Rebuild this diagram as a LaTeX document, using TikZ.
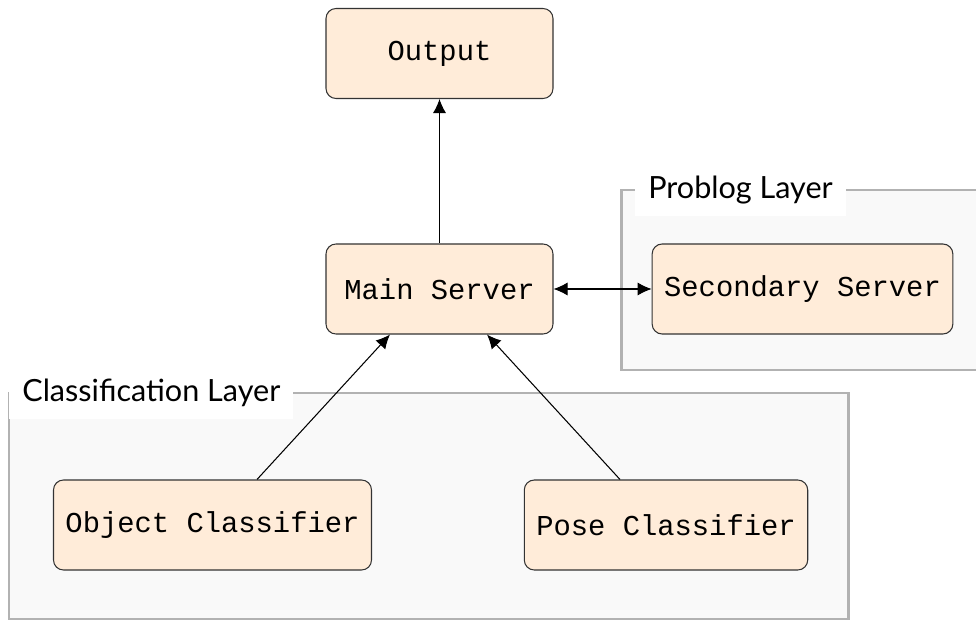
\documentclass[tikz,border=0pt]{standalone}
\usepackage{fontspec}
\setmonofont{Liberation Mono}
\newfontfamily\layerfont{Lato}
\usetikzlibrary{arrows.meta}

\begin{document}
\begin{tikzpicture}[
    unit/.style={draw=black!80, line width=0.6pt, fill=orange!15, rounded corners=0.2cm,
      minimum width=4.54cm, minimum height=1.8cm, inner xsep=0.24cm,
      font=\fontsize{16.4}{19}\selectfont\ttfamily},
    layer/.style={draw=gray!60, line width=1.7pt, fill=gray!5},
    layername/.style={fill=white, anchor=west, inner xsep=0.26cm, minimum height=1.04cm,
      font=\fontsize{17.4}{20}\selectfont\layerfont},
    tip/.tip={Latex[length=8pt, width=7.5pt]},
    flow/.style={-tip, line width=0.6pt},
  ]

  \useasboundingbox (0,0) rectangle (19.52,-12.42);

  \draw[layer] (0.18,-7.86) rectangle (16.96,-12.38);
  \draw[layer] (12.42,-3.8) rectangle (19.8,-7.4);

  \node[layername] (classlabel) at (0.18,-7.86) {Classification Layer};
  \node[layername] (problabel) at (12.7,-3.8) {Problog Layer};

  \node[unit] (output) at (8.79,-1.07) {Output};
  \node[unit] (main) at (8.79,-5.78) {Main Server};
  \node[unit] (secondary) at (16.05,-5.78) {Secondary Server};
  \node[unit] (object) at (4.25,-10.5) {Object Classifier};
  \node[unit] (pose) at (13.32,-10.5) {Pose Classifier};

  \draw[flow] (main) -- (output);
  \draw[flow, tip-tip] (main) -- (secondary);
  \draw[flow] ([xshift=0.89cm]object.north) -- ([xshift=-0.99cm]main.south);
  \draw[flow] ([xshift=-0.92cm]pose.north) -- ([xshift=0.95cm]main.south);

\end{tikzpicture}
\end{document}
